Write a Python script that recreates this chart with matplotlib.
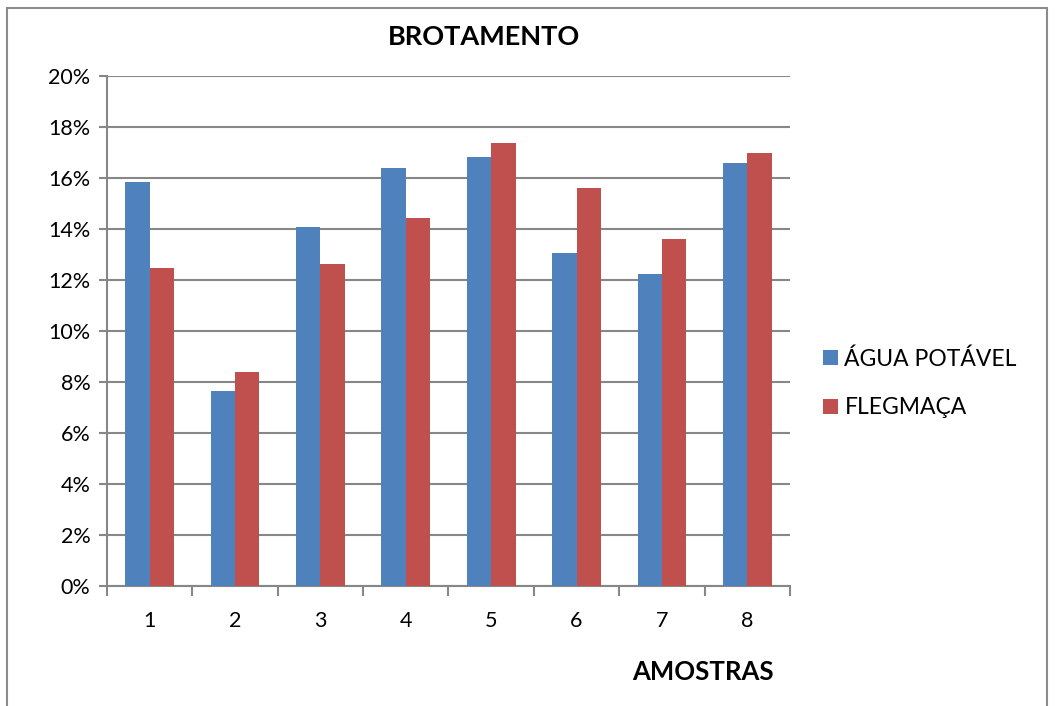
import numpy as np
import matplotlib
matplotlib.use("Agg")
import matplotlib.pyplot as plt
from matplotlib.patches import Rectangle
from matplotlib.ticker import FuncFormatter, FixedLocator

plt.rcParams["font.family"] = ["Lato", "DejaVu Sans"]

amostras = ["1", "2", "3", "4", "5", "6", "7", "8"]
agua_potavel = [15.87, 7.67, 14.09, 16.42, 16.85, 13.07, 12.24, 16.60]
flegmaca = [12.49, 8.40, 12.64, 14.44, 17.38, 15.62, 13.63, 17.00]

BLUE = "#4F81BD"
RED = "#C0504D"
GRID = "#878787"

fig = plt.figure(figsize=(10.59, 7.06), dpi=100)
ax = fig.add_axes([0.101, 0.1695, 0.645, 0.7225])

x = np.arange(len(amostras))
w = 0.285
ax.bar(x - w / 2, agua_potavel, w, color=BLUE, label="ÁGUA POTÁVEL", zorder=3)
ax.bar(x + w / 2, flegmaca, w, color=RED, label="FLEGMAÇA", zorder=3)

ax.set_xlim(-0.5, len(amostras) - 0.5)
ax.set_ylim(0, 20)
ax.set_yticks(np.arange(0, 21, 2))
ax.yaxis.set_major_formatter(FuncFormatter(lambda v, _: f"{v:.0f}%"))
ax.yaxis.grid(True, color=GRID, lw=1.5, zorder=0)

# category labels centred, tick marks on the boundaries
ax.set_xticks(x)
ax.set_xticklabels(amostras)
ax.xaxis.set_minor_locator(FixedLocator(np.arange(-0.5, len(amostras), 1)))
ax.tick_params(axis="x", which="major", length=0, pad=18, labelsize=15.5)
ax.tick_params(axis="x", which="minor", length=7, width=1.5, color=GRID)
ax.tick_params(axis="y", length=6, width=1.5, color=GRID, labelsize=15.5, pad=6)

for s in ["top", "right"]:
    ax.spines[s].set_visible(False)
for s in ["left", "bottom"]:
    ax.spines[s].set_color(GRID)
    ax.spines[s].set_linewidth(1.5)

fig.text(0.457, 0.948, "BROTAMENTO", ha="center", va="center",
         fontsize=19.5, fontweight="bold")
fig.text(0.664, 0.048, "AMOSTRAS", ha="center", va="center",
         fontsize=18.5, fontweight="bold")

ax.legend(loc="center left", bbox_to_anchor=(0.766, 0.457),
          bbox_transform=fig.transFigure, frameon=False, fontsize=16.5,
          handlelength=0.65, handleheight=0.65, handletextpad=0.3,
          labelspacing=1.2, borderpad=0)

# chart frame
fig.patches.append(Rectangle((7 / 1059, -0.02), 1040 / 1059, 1 - 8 / 706 + 0.02,
                             transform=fig.transFigure, fill=False,
                             edgecolor="#8c8c8c", lw=1.5))

fig.savefig("out.png", dpi=100)
